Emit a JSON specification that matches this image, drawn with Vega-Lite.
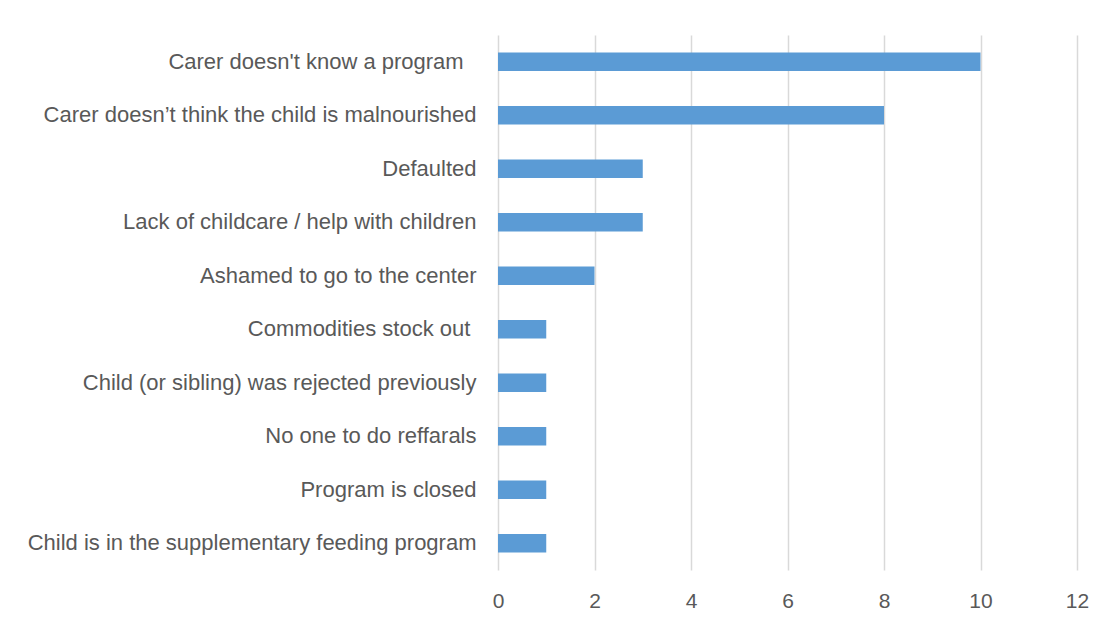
{
  "$schema": "https://vega.github.io/schema/vega-lite/v6.json",
  "autosize": {"type": "none"},
  "width": 579,
  "height": 535,
  "padding": {"left": 498, "top": 35, "right": 30, "bottom": 60},
  "background": "white",
  "config": {"view": {"stroke": null}},
  "data": {
    "values": [
      {"reason": "Carer doesn't know a program\u2002\u200a\u200b", "count": 10},
      {"reason": "Carer doesn\u2019t think the child is malnourished", "count": 8},
      {"reason": "Defaulted", "count": 3},
      {"reason": "Lack of childcare / help with children", "count": 3},
      {"reason": "Ashamed to go to the center", "count": 2},
      {"reason": "Commodities stock out\u00a0\u200b", "count": 1},
      {"reason": "Child (or sibling) was rejected previously", "count": 1},
      {"reason": "No one to do reffarals", "count": 1},
      {"reason": "Program is closed", "count": 1},
      {"reason": "Child is in the supplementary feeding program", "count": 1}
    ]
  },
  "mark": {"type": "bar", "color": "#5B9BD5"},
  "encoding": {
    "y": {
      "field": "reason",
      "type": "nominal",
      "sort": null,
      "scale": {"paddingInner": 0.655, "paddingOuter": 0.3275},
      "axis": {
        "title": null,
        "ticks": false,
        "domain": false,
        "labelFont": "Liberation Sans",
        "labelFontSize": 22,
        "labelColor": "#595959",
        "labelPadding": 22,
        "labelLimit": 1000
      }
    },
    "x": {
      "field": "count",
      "type": "quantitative",
      "scale": {"domain": [0, 12], "nice": false},
      "axis": {
        "title": null,
        "values": [0, 2, 4, 6, 8, 10, 12],
        "ticks": false,
        "domain": false,
        "grid": true,
        "gridColor": "#D9D9D9",
        "gridWidth": 1.5,
        "labelFont": "Liberation Sans",
        "labelFontSize": 21,
        "labelColor": "#595959",
        "labelPadding": 20,
        "labelFlush": false
      }
    }
  }
}
